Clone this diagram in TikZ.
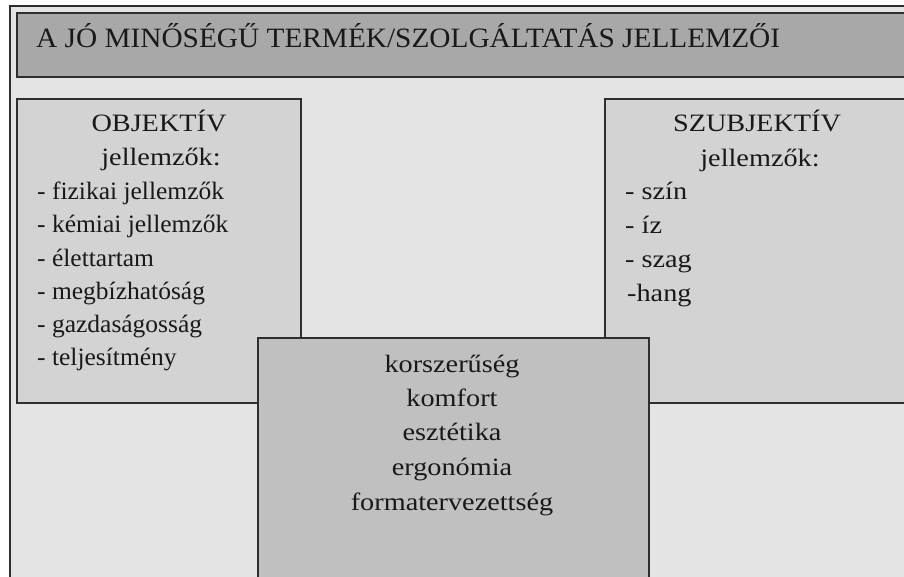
\documentclass[tikz,border=0pt]{standalone}
\usepackage{graphicx}
\usepackage{fontspec}
\setmainfont{Liberation Serif}[FakeStretch=1.13]
\newfontfamily\listfont{Liberation Serif}[FakeStretch=1.02]
\newfontfamily\titlefont{Liberation Serif}
\definecolor{pagebg}{HTML}{E4E4E4}
\definecolor{titlefill}{HTML}{A8A8A8}
\definecolor{sidefill}{HTML}{D3D3D3}
\definecolor{centerfill}{HTML}{C0C0C0}
\definecolor{edge}{HTML}{2E2E2E}
\tikzset{
  panel/.style={draw=edge, line width=1.6pt, inner sep=0pt, anchor=north west},
  body/.style={font=\fontsize{25}{30}\selectfont, inner sep=0pt, anchor=base, text=black!90},
  listitem/.style={body, anchor=base west},
  leftitem/.style={listitem, font=\listfont\fontsize{25}{30}\selectfont},
}
\begin{document}
\begin{tikzpicture}[x=1pt,y=-1pt]
\useasboundingbox (0,0) rectangle (904,577);
\clip (0,0) rectangle (904,577);
\fill[white] (0,0) rectangle (904,577);
% outer frame
\node[panel, fill=pagebg, minimum width=920pt, minimum height=590pt] (frame) at (9,5) {};
% title bar
\node[panel, fill=titlefill, minimum width=910pt, minimum height=64pt] (titlebar) at (16,12) {};
\node[font=\titlefont\fontsize{28}{34}\selectfont, anchor=base west, inner sep=0pt, text=black!90] (title) at (36,48) {\resizebox{744pt}{\height}{A JÓ MINŐSÉGŰ TERMÉK/SZOLGÁLTATÁS JELLEMZŐI}};
% left box
\node[panel, fill=sidefill, minimum width=284pt, minimum height=304pt] (left) at (16,98) {};
% right box
\node[panel, fill=sidefill, minimum width=310pt, minimum height=304pt] (right) at (604,98) {};
% center box
\node[panel, fill=centerfill, minimum width=391pt, minimum height=250pt] (center) at (257,337) {};
% left texts
\node[body] (lh1) at (159,132) {OBJEKTÍV};
\node[body] (lh2) at (161,166) {jellemzők:};
\node[leftitem] (l1) at (37,200) {- fizikai jellemzők};
\node[leftitem] (l2) at (37,233) {- kémiai jellemzők};
\node[leftitem] (l3) at (37,266) {- élettartam};
\node[leftitem] (l4) at (37,299) {- megbízhatóság};
\node[leftitem] (l5) at (37,332) {- gazdaságosság};
\node[leftitem] (l6) at (37,365) {- teljesítmény};
% right texts
\node[body] (rh1) at (757,132) {SZUBJEKTÍV};
\node[body] (rh2) at (760,167) {jellemzők:};
\node[listitem] (r1) at (625,200) {- szín};
\node[listitem] (r2) at (625,234) {- íz};
\node[listitem] (r3) at (625,267) {- szag};
\node[listitem] (r4) at (627,301) {-hang};
% center texts
\node[body] (c1) at (452,372) {korszerűség};
\node[body] (c2) at (452,406) {komfort};
\node[body] (c3) at (452,440) {esztétika};
\node[body] (c4) at (452,475) {ergonómia};
\node[body] (c5) at (452,510) {formatervezettség};
\end{tikzpicture}
\end{document}
